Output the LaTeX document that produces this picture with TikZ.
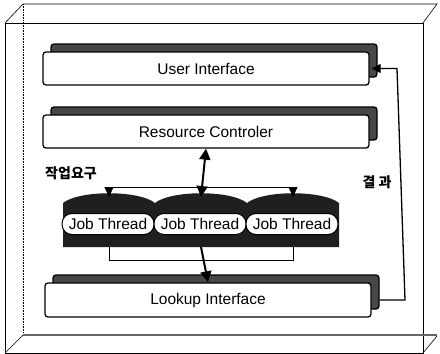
\documentclass[tikz,border=0pt]{standalone}
\usepackage{fontspec}
\setmainfont{Liberation Sans}
\newfontfamily\korfont{Noto Sans CJK KR}
\usetikzlibrary{arrows.meta,shadows,positioning}
\newcommand{\labelfont}{\fontsize{15.5}{18}\selectfont}
\newcommand{\layerw}{326pt}
\newcommand{\layerh}{33pt}

\tikzset{
  layer/.style={draw=black, line width=1.3pt, fill=white, rounded corners=3pt,
    minimum width=\layerw, minimum height=\layerh, inner sep=0pt, font=\labelfont,
    copy shadow={shadow xshift=8pt, shadow yshift=8pt, fill=black!72, draw=black}},
  jobpill/.style={draw=black, line width=1pt, fill=white, rounded corners=10pt,
    minimum width=92pt, minimum height=21pt, inner sep=0pt, font=\labelfont},
  jobback/.style={fill=black!88},
  thin link/.style={line width=1pt, -{Triangle[length=10pt,width=9pt]}},
  bold link/.style={line width=2pt, {Triangle[length=11pt,width=11pt]}-{Triangle[length=11pt,width=11pt]}},
  frame/.style={line width=0.6pt},
  korlabel/.style={font=\korfont\bfseries\fontsize{14}{16}\selectfont}
}

\begin{document}
\begin{tikzpicture}[x=1pt,y=-1pt]
  \useasboundingbox (0,0) rectangle (440,354);
  % box frame
  \draw[frame] (5,23) rectangle (423,353);
  \draw[frame] (5,23) -- (23,4) -- (437,4) -- (423,23);
  \draw[frame, densely dotted] (23,4) -- (23,335);
  \draw[line width=1.2pt, black!60] (23,335) -- (437,335);
  \draw[frame] (5,353) -- (23,335);
  \draw[frame] (423,353) -- (437,336);

  % layers
  \node[layer] (ui) at (206,68.5) {User Interface};
  \node[layer] (rc) at (206,131.5) {Resource Controler};
  \node[layer, minimum height=34pt] (lk) at (208,300) {Lookup Interface};

  % job threads
  \foreach \x/\n in {109/1,201/2,293/3}{
    \fill[jobback] (\x-46,247) -- (\x-46,203) .. controls (\x-30,190) and (\x+30,190) .. (\x+46,203) -- (\x+46,247) -- cycle;
    \node[jobpill] (j\n) at (\x-1,224) {Job Thread};
    \coordinate (t\n) at (\x,197);
    \coordinate (h\n) at (\x,187);
    \coordinate (b\n) at (\x,247);
    \coordinate (d\n) at (\x,260);
  }

  % requests
  \draw[line width=1pt] (h1) -- (h3);
  \draw[thin link] (h1) -- (t1);
  \draw[thin link] (h3) -- (t3);
  \draw[bold link] (rc.south) -- (t2);

  % results
  \draw[line width=1pt] (b1) -- (d1) -- (d3) -- (b3);
  \draw[line width=2pt, -{Triangle[length=11pt,width=11pt]}] (b2) -- (lk.north);
  \coordinate (r) at (397,0);
  \draw[line width=1.3pt, -{Triangle[length=9pt,width=9pt]}] ([xshift=8pt]lk.east) -- ([xshift=8pt]lk.east -| r) -- (ui.east -| r) -- ([xshift=2pt]ui.east);

  \node[korlabel] (req) at (71,173) {작업요구};
  \node[korlabel] (res) at (377,182) {결 과};
\end{tikzpicture}
\end{document}
